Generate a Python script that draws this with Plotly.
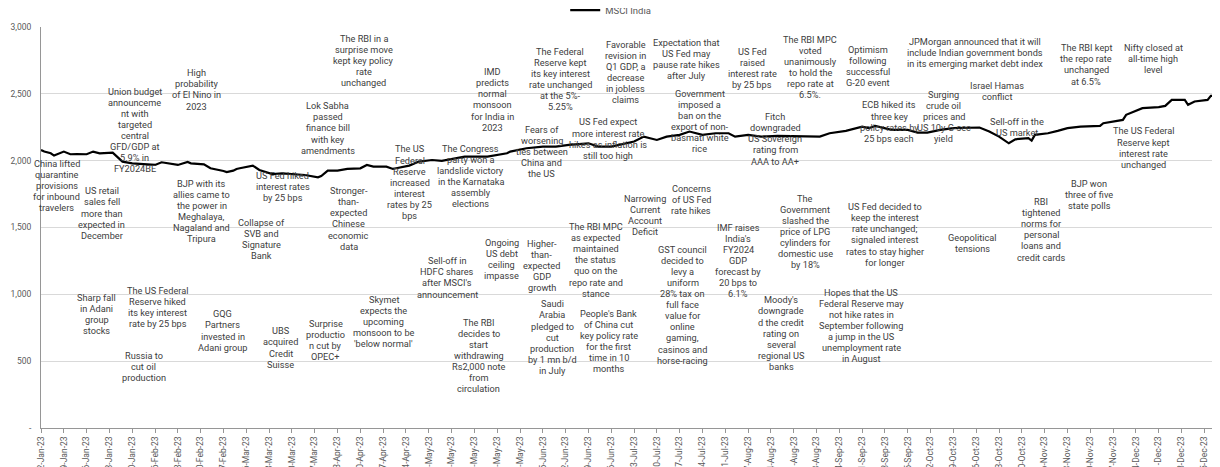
import pandas as pd
import plotly.graph_objects as go

# ---------------- data ----------------
dates = [
    "2023-01-02", "2023-01-03", "2023-01-05", "2023-01-06", "2023-01-09", "2023-01-11",
    "2023-01-13", "2023-01-16", "2023-01-18", "2023-01-20", "2023-01-24", "2023-01-26",
    "2023-01-27", "2023-01-30", "2023-02-02", "2023-02-06", "2023-02-08", "2023-02-13",
    "2023-02-16", "2023-02-17", "2023-02-21", "2023-02-23", "2023-02-27", "2023-02-28",
    "2023-03-02", "2023-03-03", "2023-03-04", "2023-03-08", "2023-03-10", "2023-03-14",
    "2023-03-17", "2023-03-20", "2023-03-24", "2023-03-28", "2023-03-29", "2023-03-31",
    "2023-04-03", "2023-04-06", "2023-04-10", "2023-04-12", "2023-04-14", "2023-04-18",
    "2023-04-20", "2023-04-21", "2023-04-25", "2023-04-28", "2023-05-02", "2023-05-05",
    "2023-05-12", "2023-05-19", "2023-05-25", "2023-05-26", "2023-05-31", "2023-06-05",
    "2023-06-09", "2023-06-13", "2023-06-19", "2023-06-22", "2023-06-26", "2023-07-03",
    "2023-07-06", "2023-07-10", "2023-07-13", "2023-07-17", "2023-07-20", "2023-07-24",
    "2023-07-28", "2023-08-01", "2023-08-03", "2023-08-07", "2023-08-11", "2023-08-16",
    "2023-08-23", "2023-08-25", "2023-08-29", "2023-09-01", "2023-09-06", "2023-09-11",
    "2023-09-13", "2023-09-15", "2023-09-20", "2023-09-25", "2023-09-28", "2023-10-01",
    "2023-10-05", "2023-10-09", "2023-10-13", "2023-10-17", "2023-10-20", "2023-10-23",
    "2023-10-26", "2023-10-28", "2023-11-01", "2023-11-02", "2023-11-03", "2023-11-07",
    "2023-11-10", "2023-11-13", "2023-11-17", "2023-11-23", "2023-11-24", "2023-11-30",
    "2023-12-01", "2023-12-06", "2023-12-11", "2023-12-13", "2023-12-15", "2023-12-19",
    "2023-12-20", "2023-12-22", "2023-12-26", "2023-12-27", "2023-12-29",
]
msci_india = [
    2080, 2068, 2055, 2038, 2068, 2048,
    2050, 2048, 2068, 2055, 2060, 2018,
    1993, 1980, 1975, 1968, 1988, 1968,
    1990, 1980, 1973, 1943, 1923, 1915,
    1925, 1938, 1943, 1963, 1930, 1900,
    1905, 1900, 1893, 1875, 1885, 1925,
    1925, 1938, 1943, 1968, 1955, 1955,
    1938, 1943, 1963, 1993, 2005, 1998,
    2030, 2030, 2055, 2068, 2093, 2105,
    2105, 2118, 2130, 2105, 2105, 2143,
    2180, 2155, 2180, 2193, 2218, 2193,
    2205, 2205, 2180, 2193, 2180, 2185,
    2185, 2180, 2180, 2205, 2223, 2255,
    2243, 2260, 2230, 2230, 2210, 2210,
    2230, 2243, 2243, 2248, 2218, 2180,
    2130, 2160, 2168, 2150, 2193, 2205,
    2223, 2243, 2255, 2260, 2280, 2305,
    2343, 2393, 2400, 2410, 2455, 2455,
    2418, 2443, 2455, 2485, 2480,
]

series_name = "MSCI India"
y_tick_values = [0, 500, 1000, 1500, 2000, 2500, 3000]
y_tick_labels = ["-", "500", "1,000", "1,500", "2,000", "2,500", "3,000"]

event_texts = [
    "China lifted|quarantine|provisions|for inbound|travelers",
    "US retail|sales fell|more than|expected in|December",
    "Union budget|announceme|nt with|targeted|central|GFD/GDP at|5.9% in|FY2024BE",
    "High|probability|of El Nino in|2023",
    "The RBI in a|surprise move|kept key policy|rate|unchanged",
    "Lok Sabha|passed|finance bill|with key|amendments",
    "The US|Federal|Reserve|increased|interest|rates by 25|bps",
    "US Fed hiked|interest rates|by 25 bps",
    "BJP with its|allies came to|the power in|Meghalaya,|Nagaland and|Tripura",
    "Stronger-|than-|expected|Chinese|economic|data",
    "Collapse of|SVB and|Signature|Bank",
    "Sharp fall|in Adani|group|stocks",
    "The US Federal|Reserve hiked|its key interest|rate by 25 bps",
    "Russia to|cut oil|production",
    "GQG|Partners|invested in|Adani group",
    "UBS|acquired|Credit|Suisse",
    "Surprise|productio|n cut by|OPEC+",
    "Skymet|expects the|upcoming|monsoon to be|'below normal'",
    "Sell-off in|HDFC shares|after MSCI's|announcement",
    "Ongoing|US debt|ceiling|impasse",
    "Higher-|than-|expected|GDP|growth",
    "The RBI MPC|as expected|maintained|the status|quo on the|repo rate and|stance",
    "Narrowing|Current|Account|Deficit",
    "Concerns|of US Fed|rate hikes",
    "GST council|decided to|levy a|uniform|28% tax on|full face|value for|online|gaming,|casinos and|horse-racing",
    "IMF raises|India's|FY2024|GDP|forecast by|20 bps to|6.1%",
    "The RBI|decides to|start|withdrawing|Rs2,000 note|from|circulation",
    "Saudi|Arabia|pledged to|cut|production|by 1 mn b/d|in July",
    "People's Bank|of China cut|key policy rate|for the first|time in 10|months",
    "Moody's|downgrade|d the credit|rating on|several|regional US|banks",
    "IMD|predicts|normal|monsoon|for India in|2023",
    "The Federal|Reserve kept|its key interest|rate unchanged|at the 5%-|5.25%",
    "Favorable|revision in|Q1 GDP, a|decrease|in jobless|claims",
    "Expectation that|US Fed may|pause rate hikes|after July",
    "US Fed|raised|interest rate|by 25 bps",
    "The RBI MPC|voted|unanimously|to hold the|repo rate at|6.5%.",
    "Government|imposed a|ban on the|export of non-|basmati white|rice",
    "Fears of|worsening|ties between|China and|the US",
    "US Fed expect|more interest rate|hikes as inflation is|still too high",
    "The Congress|party won a|landslide victory|in the Karnataka|assembly|elections",
    "Fitch|downgraded|US Sovereign|rating from|AAA to AA+",
    "The|Government|slashed the|price of LPG|cylinders for|domestic use|by 18%",
    "Optimism|following|successful|G-20 event",
    "JPMorgan announced that it will|include Indian government bonds|in its emerging market debt index",
    "The RBI kept|the repo rate|unchanged|at 6.5%",
    "Nifty closed at|all-time high|level",
    "Israel Hamas|conflict",
    "ECB hiked its|three key|policy rates by|25 bps each",
    "Surging|crude oil|prices and|US 10y G-sec|yield",
    "Sell-off in the|US market",
    "The US Federal|Reserve kept|interest rate|unchanged",
    "BJP won|three of five|state polls",
    "RBI|tightened|norms for|personal|loans and|credit cards",
    "US Fed decided to|keep the interest|rate unchanged;|signaled interest|rates to stay higher|for longer",
    "Geopolitical|tensions",
    "Hopes that the US|Federal Reserve may|not hike rates in|September following|a jump in the US|unemployment rate|in August",
]

# ---------------- layout of the event labels (position of first line) ----------------
axis_start = pd.Timestamp("2023-01-02")
event_day = [
    4.8, 18.6, 28.8, 47.8, 99.1, 88.0, 113.2, 74.2, 49.4, 94.5, 67.8,
    17.1, 35.8, 31.5, 55.8, 73.6, 87.4, 105.2,
    124.6, 141.4, 153.7, 170.3, 185.3, 199.5, 197.0, 213.9,
    134.4, 156.9, 174.3, 227.1,
    138.7, 159.3, 179.5, 198.2, 218.2, 236.0, 202.2, 153.7, 174.0, 131.9, 225.3, 234.5,
    253.8, 286.7, 320.7, 341.3, 293.4, 260.3, 277.1, 299.6, 338.3, 321.7, 306.9, 259.0,
    286.0, 251.7,
]
event_top = [
    1981, 1774, 2521, 2658, 2915, 2411, 2088, 1888, 1831, 1776, 1537,
    979, 1029, 543, 854, 727, 782, 964,
    1251, 1390, 1383, 1507, 1719, 1791, 1338, 1502,
    792, 929, 860, 959,
    2666, 2820, 2870, 2885, 2820, 2908, 2504, 2235, 2290, 2093, 2329, 1719,
    2835, 2895, 2845, 2845, 2566, 2417, 2497, 2292, 2222, 1831, 1694, 1656,
    1425, 1017,
]
LINE_PX = 11.1
TEXT_FONT = dict(family="Roboto, Arial, sans-serif", size=9.2, color="#404040")

fig = go.Figure()
fig.add_trace(go.Scatter(
    x=pd.to_datetime(dates), y=msci_india, mode="lines", name=series_name,
    line=dict(color="#000000", width=2.2),
))

annotations = []
for txt, d, v in zip(event_texts, event_day, event_top):
    xd = axis_start + pd.Timedelta(days=d)
    for j, line in enumerate(txt.split("|")):
        annotations.append(dict(
            x=xd, y=v, xref="x", yref="y", text=line, showarrow=False,
            xanchor="center", yanchor="middle", yshift=-j * LINE_PX,
            font=TEXT_FONT,
        ))

# the page body adds an 8px offset, so the figure is 8px smaller on each side
fig.update_layout(
    width=1212, height=459,
    margin=dict(l=33, r=1, t=19, b=39, autoexpand=False),
    paper_bgcolor="white", plot_bgcolor="white",
    template="none",
    showlegend=True,
    legend=dict(orientation="h", x=0.445, xanchor="left", y=1.042, yanchor="middle",
                font=dict(family="Roboto, Arial, sans-serif", size=9.5, color="#595959"),
                bgcolor="rgba(0,0,0,0)"),
    annotations=annotations,
)
fig.update_xaxes(
    type="date", range=["2023-01-02", "2023-12-29 12:00"],
    tick0="2023-01-02", dtick=7 * 86400000, tickformat="%-d-%b-%y",
    tickangle=-90, ticks="outside", ticklen=4, tickcolor="#969696",
    showline=True, linecolor="#969696", linewidth=1,
    showgrid=False, zeroline=False, automargin=False,
    tickfont=dict(family="Roboto, Arial, sans-serif", size=8.5, color="#595959"),
)
fig.update_yaxes(
    range=[0, 3000], tickvals=y_tick_values, ticktext=y_tick_labels,
    ticks="outside", ticklen=7, tickcolor="rgba(0,0,0,0)",
    showline=True, linecolor="#969696", linewidth=1,
    showgrid=True, gridcolor="#d9d9d9", gridwidth=1, zeroline=False,
    automargin=False,
    tickfont=dict(family="Roboto, Arial, sans-serif", size=8.5, color="#595959"),
)

fig.write_html("out.html")
